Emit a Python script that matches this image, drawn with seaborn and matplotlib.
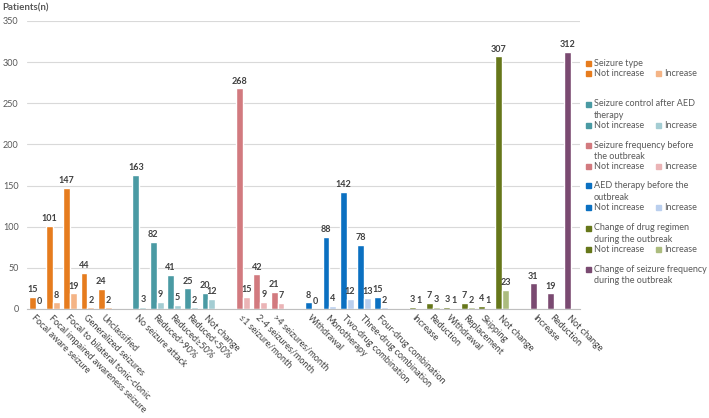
import numpy as np
import pandas as pd
import matplotlib.pyplot as plt
import seaborn as sns
from matplotlib.patches import Rectangle

# ── data ─────────────────────────────────────────────────────────
STATUS = ["Not increase", "Increase"]

type_cats = ["Focal aware seizure", "Focal impaired awareness seizure",
             "Focal to bilateral tonic-clonic", "Generalized seizures", "Unclassified"]
type_not = [15, 101, 147, 44, 24]
type_inc = [0, 8, 19, 2, 2]

control_cats = ["No seizure attack", "Reduced>90%", "Reduced≥50%", "Reduced<50%", "Not change"]
control_not = [163, 82, 41, 25, 20]
control_inc = [3, 9, 5, 2, 12]

freq_cats = ["≤1 seizure/month", "2-4 seizures/month", ">4 seizures/month"]
freq_not = [268, 42, 21]
freq_inc = [15, 9, 7]

aed_cats = ["Withdrawal", "Monotherapy", "Two-drug combination",
            "Three-drug combination", "Four-drug combination"]
aed_not = [8, 88, 142, 78, 15]
aed_inc = [0, 4, 12, 13, 2]

regimen_cats = ["Increase", "Reduction", "Withdrawal", "Replacement", "Skipping", "Not change"]
regimen_not = [3, 7, 3, 7, 4, 307]
regimen_inc = [1, 3, 1, 2, 1, 23]

change_cats = ["Increase", "Reduction", "Not change"]
change_n = [31, 19, 312]

groups = [
    (["Seizure type"], type_cats, type_not, type_inc, "#E67C1E", "#F4B486"),
    (["Seizure control after AED", "therapy"], control_cats, control_not, control_inc, "#4A9AA3", "#A4CDD3"),
    (["Seizure frequency before", "the outbreak"], freq_cats, freq_not, freq_inc, "#D27A7F", "#EBB4B6"),
    (["AED therapy before the", "outbreak"], aed_cats, aed_not, aed_inc, "#0B70C1", "#BACFEE"),
    (["Change of drug regimen", "during the outbreak"], regimen_cats, regimen_not, regimen_inc, "#66771A", "#ACBC7E"),
    (["Change of seizure frequency", "during the outbreak"], change_cats, change_n, None, "#7A4A71", "#C4A8BE"),
]

FONT = ["Lato", "DejaVu Sans"]
TXT = "#404040"
sns.set_style("white")
plt.rcParams["font.family"] = FONT

# long table with one unique key per category, plus an empty slot between groups
order, labels, slot_colors, parts = [], [], [], []
for g, (title, cats, nv, iv, dark, light) in enumerate(groups):
    keys = [f"{g}:{c}" for c in cats]
    order += keys
    labels += cats
    slot_colors += [(dark, light)] * len(cats)
    parts.append(pd.DataFrame({"key": keys, "status": STATUS[0], "n": nv}))
    if iv is not None:
        parts.append(pd.DataFrame({"key": keys, "status": STATUS[1], "n": iv}))
    if g < len(groups) - 1:
        order.append(f"gap{g}")
        labels.append("")
        slot_colors.append(None)
df = pd.concat(parts, ignore_index=True)

fig = plt.figure(figsize=(7.09, 4.18), dpi=100)
ax = fig.add_axes([27 / 709, 1 - 309 / 418, (580 - 27) / 709, (309 - 21) / 418])

sns.barplot(data=df, x="key", y="n", hue="status", hue_order=STATUS, order=order,
            palette=["#888888", "#CCCCCC"], width=0.8, saturation=1,
            errorbar=None, legend=False, ax=ax)

# colour each bar by its group
for k, cont in enumerate(ax.containers):
    for bar in cont:
        slot = int(round(bar.get_x() + bar.get_width() / 2 + (0.2 if k == 0 else -0.2)))
        bar.set_facecolor(slot_colors[slot][k])
    ax.bar_label(cont, fmt="%d", padding=2, fontsize=6.5, fontweight="bold", color=TXT)

ax.set_xlim(-0.5, len(order) - 0.5)
ax.set_ylim(0, 350)
ax.set_yticks(range(0, 351, 50))
ax.yaxis.grid(True, color="#D9D9D9", lw=0.8)
ax.set_axisbelow(True)
ax.set_xticks(range(len(order)))
ax.set_xticklabels(labels, rotation=-45, ha="left", va="top",
                   rotation_mode="anchor", fontsize=6.6, color=TXT)
ax.tick_params(axis="x", length=0, pad=3)
ax.tick_params(axis="y", length=0, pad=6, labelsize=6.5, labelcolor="#595959")
ax.set_xlabel("")
ax.set_ylabel("")
for s in ["top", "right", "left"]:
    ax.spines[s].set_visible(False)
ax.spines["bottom"].set_color("#BFBFBF")

fig.text(2 / 709, 1 - 8 / 418, "Patients(n)", fontsize=7, fontweight="bold",
         color="#595959", va="center")

# ── legend ────────────────────────────────────────────────────────
def px(x, y):
    return x / 709, 1 - y / 418

def square(x, y, color):
    fx, fy = px(x - 2.5, y + 2.5)
    fig.patches.append(Rectangle((fx, fy), 5 / 709, 5 / 418, color=color,
                                 transform=fig.transFigure, figure=fig))

def label(x, y, s):
    fig.text(*px(x, y), s, fontsize=6.5, color="#595959", va="center")

header_y = [63, 104, 145, 186, 228, 269]
for (title, cats, nv, iv, dark, light), hy in zip(groups, header_y):
    square(588, hy, dark)
    for k, line in enumerate(title):
        label(594, hy + 11.5 * k, line)
    if iv is not None:
        ry = hy + 11.5 * len(title) - 1.5
        square(588, ry, dark)
        label(594, ry, STATUS[0])
        square(658, ry, light)
        label(664, ry, STATUS[1])

fig.savefig("out.png", dpi=100)
